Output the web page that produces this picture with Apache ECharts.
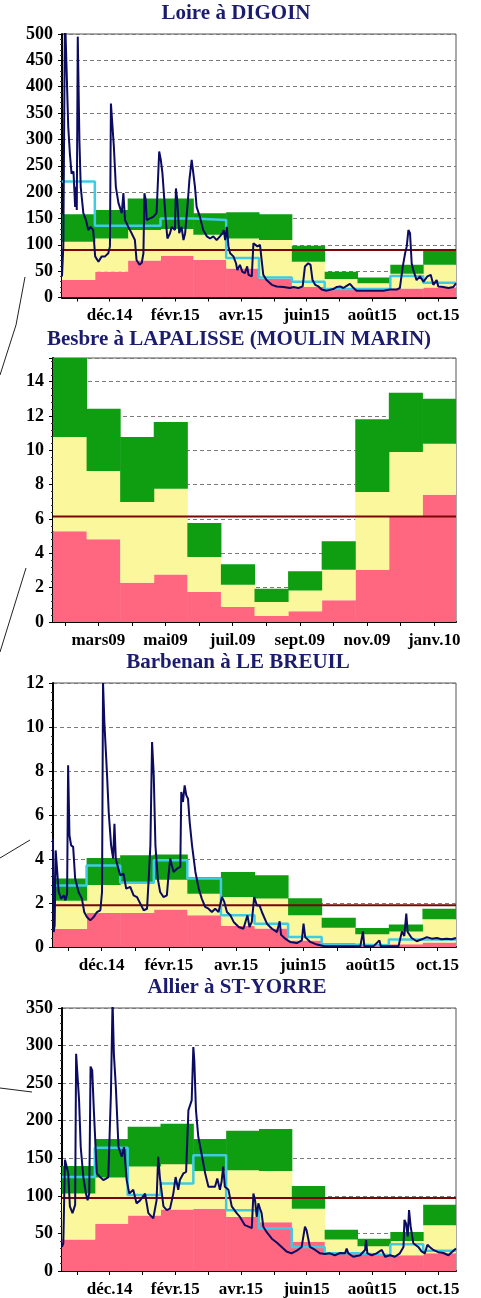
<!DOCTYPE html>
<html><head><meta charset="utf-8">
<script src="https://cdn.jsdelivr.net/npm/echarts@6/dist/echarts.min.js"></script>
<style>html,body{margin:0;padding:0;background:#fff}#c{width:481px;height:1298px}</style>
</head><body><div id="c"></div><script>
// ---- tick labels (x in months since start of first monthly band) ----
const labels1415 = ['déc.14','févr.15','avr.15','juin15','août15','oct.15'];
const labelPos1415 = [1.45,3.45,5.45,7.45,9.45,11.45];
const tickPos1415 = [0.45,1.45,2.45,3.45,4.45,5.45,6.45,7.45,8.45,9.45,10.45,11.45];
const labels0910 = ['mars09','mai09','juil.09','sept.09','nov.09','janv.10'];
const labelPos0910 = [1.35,3.35,5.35,7.35,9.35,11.35];
const tickPos0910 = [0.35,1.35,2.35,3.35,4.35,5.35,6.35,7.35,8.35,9.35,10.35,11.35];

// ---- Loire à DIGOIN ----
const loirePink   = [33,49,70,79,71,55,35,20,17,14,17,19];
const loireYellow = [106,112,128,130,119,112,109,68,35,27,45,62];
const loireGreen  = [158,166,188,188,160,162,158,98,49,38,62,90];
const loireMean   = [220,136,136,150,147,75,38,30,16,16,41,28];
const loireAlert  = 90;
const loireT = [0.00,0.04,0.09,0.19,0.24,0.29,0.35,0.40,0.43,0.45,0.48,0.53,0.57,0.65,0.73,0.80,0.87,0.95,1.01,1.11,1.21,1.31,1.41,1.46,1.49,1.54,1.58,1.64,1.72,1.82,1.87,1.92,2.02,2.12,2.22,2.27,2.36,2.43,2.48,2.51,2.55,2.58,2.68,2.78,2.88,2.96,3.01,3.06,3.11,3.16,3.21,3.29,3.34,3.44,3.47,3.51,3.57,3.64,3.70,3.75,3.82,3.88,3.95,4.00,4.05,4.10,4.20,4.30,4.41,4.51,4.61,4.71,4.81,4.89,4.93,4.97,5.02,5.07,5.12,5.22,5.30,5.34,5.42,5.49,5.57,5.64,5.68,5.78,5.83,5.88,5.95,6.03,6.08,6.13,6.23,6.39,6.54,6.74,6.94,7.05,7.20,7.33,7.40,7.50,7.57,7.63,7.71,7.81,7.91,8.06,8.26,8.37,8.47,8.57,8.67,8.77,8.85,8.97,9.18,9.38,9.58,9.79,9.99,10.19,10.29,10.38,10.45,10.50,10.55,10.60,10.65,10.70,10.80,10.90,11.01,11.13,11.23,11.31,11.41,11.46,11.61,11.77,11.92,12.00];
const loireQ = [40,97,540,324,273,235,239,172,210,166,495,299,210,160,147,128,134,128,78,68,78,78,84,97,368,368,286,210,179,160,198,147,134,122,109,71,62,66,84,198,185,147,150,153,160,277,261,235,191,147,112,122,134,128,207,185,122,134,109,122,172,223,261,258,210,172,153,128,116,112,116,109,116,122,128,109,134,97,84,78,65,52,62,49,46,59,43,40,103,100,97,100,97,43,33,24,21,20,18,20,18,21,59,65,62,33,24,21,15,13,16,20,21,18,22,26,20,13,13,13,13,13,15,15,18,59,84,97,128,122,65,52,33,40,30,40,43,24,33,21,20,18,20,27];

// ---- Besbre à LAPALISSE (MOULIN MARIN) ----
const besbrePink   = [5.28,4.82,2.29,2.76,1.75,0.87,0.35,0.62,1.26,3.05,6.17,7.42];
const besbreYellow = [10.78,8.80,6.99,7.77,3.79,2.17,1.17,1.84,3.05,7.57,9.90,10.39];
const besbreGreen  = [15.4,12.43,10.78,11.65,5.77,3.36,1.94,2.95,4.70,11.81,13.36,13.01];
const besbreAlert  = 6.15;

// ---- Barbenan à LE BREUIL ----
const barbPink   = [0.82,1.55,1.55,1.70,1.44,0.95,0.84,0.30,0.18,0.08,0.12,0.20];
const barbYellow = [2.10,2.82,2.90,3.06,2.42,2.27,2.20,1.44,0.88,0.58,0.71,1.26];
const barbGreen  = [3.11,4.04,4.17,4.21,3.18,3.41,3.26,2.22,1.33,0.86,1.02,1.74];
const barbMean   = [2.80,3.71,2.92,3.94,3.11,1.44,1.06,0.45,0.10,0.08,0.34,0.34];
const barbAlert  = 1.9;
const barbT = [0.00,0.02,0.05,0.08,0.12,0.17,0.24,0.32,0.37,0.42,0.45,0.49,0.54,0.60,0.66,0.76,0.86,0.93,1.01,1.11,1.21,1.31,1.41,1.46,1.49,1.53,1.57,1.61,1.66,1.73,1.79,1.83,1.87,1.92,2.00,2.10,2.18,2.30,2.40,2.50,2.60,2.70,2.80,2.85,2.90,2.95,3.00,3.05,3.12,3.19,3.29,3.39,3.44,3.49,3.54,3.59,3.69,3.79,3.82,3.87,3.92,3.97,4.02,4.07,4.14,4.24,4.34,4.43,4.53,4.63,4.73,4.83,4.93,5.03,5.10,5.18,5.28,5.38,5.53,5.67,5.79,5.85,5.92,5.99,6.07,6.15,6.22,6.37,6.52,6.67,6.75,6.79,6.91,7.06,7.26,7.41,7.46,7.51,7.66,7.86,8.06,8.35,8.75,9.15,9.23,9.27,9.54,9.72,9.76,10.04,10.29,10.39,10.46,10.52,10.56,10.68,10.83,10.98,11.13,11.28,11.43,11.57,11.72,11.87,12.00];
const barbQ = [4.92,0.68,0.98,4.39,4.32,2.5,2.2,2.35,2.12,2.42,8.26,5.08,4.62,4.55,3.11,2.5,2.2,1.59,1.36,1.21,1.36,1.59,1.67,2.5,12.0,10.2,10.2,7.8,6.1,4.62,4.02,5.6,4.0,3.71,3.26,3.33,2.65,2.73,2.35,2.27,1.97,1.67,1.74,3.11,4.62,9.32,7.8,4.62,3.11,2.5,2.27,2.35,3.26,4.02,3.71,3.41,3.56,3.64,7.05,6.59,7.35,6.89,6.74,5.68,4.62,3.41,2.65,2.2,1.82,1.74,1.59,1.74,1.59,2.27,2.05,1.59,1.44,1.14,0.91,0.83,1.44,0.91,1.14,2.27,1.89,1.89,1.59,1.06,0.83,0.68,1.17,0.56,0.38,0.23,0.18,0.30,1.06,0.45,0.23,0.11,0.05,0.03,0.03,0.03,0.71,0.03,0.03,0.3,0.03,0.03,0.05,0.71,0.5,1.52,0.68,0.41,0.26,0.35,0.45,0.38,0.41,0.35,0.38,0.35,0.41];

// ---- Allier à ST-YORRE ----
const allierPink   = [42,63,74,82,83,72,65,39,23.5,22,21,23.5];
const allierYellow = [103,124.5,139,142,133,134,133,83,42,33,40,61];
const allierGreen  = [139.6,175.5,192,196,175.5,186.5,189,113,55,43,52,88];
const allierMean   = [125,164,101,116.5,154,81,57,32,23.5,21,35.5,27];
const allierAlert  = 97;
const allierT = [0.00,0.04,0.09,0.14,0.19,0.24,0.32,0.40,0.43,0.48,0.52,0.57,0.65,0.73,0.78,0.83,0.87,0.92,0.97,1.06,1.16,1.26,1.34,1.41,1.49,1.54,1.58,1.64,1.72,1.82,1.89,1.97,2.05,2.17,2.27,2.38,2.53,2.63,2.78,2.88,2.93,2.98,3.09,3.19,3.29,3.39,3.46,3.54,3.59,3.70,3.78,3.85,3.95,4.00,4.03,4.08,4.15,4.25,4.36,4.46,4.56,4.66,4.73,4.81,4.86,4.91,4.96,5.07,5.17,5.32,5.42,5.57,5.68,5.78,5.83,5.88,5.93,5.98,6.03,6.08,6.13,6.23,6.39,6.54,6.69,6.84,6.99,7.15,7.30,7.40,7.45,7.55,7.71,7.86,8.01,8.16,8.31,8.47,8.62,8.67,8.72,8.87,9.08,9.23,9.26,9.30,9.43,9.58,9.74,9.84,9.99,10.14,10.29,10.40,10.43,10.48,10.53,10.57,10.62,10.70,10.85,10.95,11.05,11.13,11.20,11.31,11.46,11.62,11.77,11.92,12.00];
const allierQ = [32,37,148,150,130,86,77,88,289,289,227,165,125,103,94,103,272,267,214,130,125,121,123,125,236,360,289,245,165,152,165,121,103,108,90,94,103,77,70,94,152,125,86,81,83,103,125,108,121,130,132,214,227,298,280,214,179,156,130,112,112,112,123,108,119,139,112,108,86,77,72,61,59,57,103,94,72,90,83,77,59,52,43,38,32,26,23.5,27,32,59,54,32,28,23.5,22.6,23.5,21,24,23.5,30,23.5,19,21,28,41,23.5,21,23.5,28,19,21,19,23.5,32,68,63,46,81,59,37,32,26,23.5,35,32,28,25,24,21,27,30];

const FONT = '"Liberation Serif","DejaVu Serif",serif';
const C_PINK = '#ff6680', C_YEL = '#fbf79c', C_GREEN = '#0f9d12', C_CYAN = '#3fcbe6', C_NAVY = '#0b0b62', C_RED = '#7a0606';

const panels = [
  {title:'Loire à DIGOIN', tx:236, tt:3, grid:{left:62, top:34, width:394, height:263.5}, yMax:500, yStep:50,
   pink:loirePink, yellow:loireYellow, green:loireGreen, mean:loireMean, t:loireT, q:loireQ, alert:loireAlert,
   labels:labels1415, labelPos:labelPos1415, tickPos:tickPos1415},
  {title:'Besbre à LAPALISSE (MOULIN MARIN)', tx:239, tt:329, grid:{left:53, top:358, width:403, height:264}, yMax:15.38, yStep:2,
   pink:besbrePink, yellow:besbreYellow, green:besbreGreen, mean:null, t:null, q:null, alert:besbreAlert,
   labels:labels0910, labelPos:labelPos0910, tickPos:tickPos0910},
  {title:'Barbenan à LE BREUIL', tx:238, tt:652, grid:{left:53, top:683, width:403, height:264}, yMax:12, yStep:2,
   pink:barbPink, yellow:barbYellow, green:barbGreen, mean:barbMean, t:barbT, q:barbQ, alert:barbAlert,
   labels:labels1415, labelPos:labelPos1415, tickPos:tickPos1415},
  {title:'Allier à ST-YORRE', tx:237, tt:977, grid:{left:62, top:1008, width:394, height:263}, yMax:350, yStep:50,
   pink:allierPink, yellow:allierYellow, green:allierGreen, mean:allierMean, t:allierT, q:allierQ, alert:allierAlert,
   labels:labels1415, labelPos:labelPos1415, tickPos:tickPos1415}
];

function bandSeries(gi, lows, highs, color) {
  return {
    type:'custom', xAxisIndex:gi, yAxisIndex:gi, clip:true, silent:true, z:1,
    encode:{x:0, y:[1,2]},
    data: highs.map((h,i)=>[i, lows[i], h]),
    renderItem:(params, api)=>{
      const i = api.value(0), lo = api.value(1), hi = api.value(2);
      const p0 = api.coord([i, lo]), p1 = api.coord([i+1, hi]);
      return {type:'rect', shape:{x:p0[0], y:p1[1], width:p1[0]-p0[0]+0.5, height:p0[1]-p1[1]}, style:{fill:color}};
    }
  };
}

const option = {animation:false, backgroundColor:'#fff', title:[], grid:[], xAxis:[], yAxis:[], series:[],
  graphic:[
    {type:'polyline', shape:{points:[[25,277],[16,325],[0,375]]}, style:{stroke:'#222', lineWidth:1, fill:null}},
    {type:'line', shape:{x1:26,y1:568,x2:0,y2:652}, style:{stroke:'#222', lineWidth:1}},
    {type:'line', shape:{x1:30,y1:840,x2:0,y2:858}, style:{stroke:'#222', lineWidth:1}},
    {type:'line', shape:{x1:0,y1:1088,x2:32,y2:1092}, style:{stroke:'#222', lineWidth:1}}
  ]};

panels.forEach((p, gi)=>{
  option.title.push({text:p.title, left:p.tx, top:p.tt, textAlign:'center', padding:0,
    textStyle:{fontFamily:FONT, fontWeight:'bold', fontSize:21, color:'#1c1c6e'}});
  option.grid.push(Object.assign({show:true, borderColor:'#555', borderWidth:1, backgroundColor:'rgba(0,0,0,0)'}, p.grid));
  option.xAxis.push({type:'value', gridIndex:gi, min:0, max:12,
    axisLine:{lineStyle:{color:'#000', width:2}},
    axisTick:{show:true, customValues:p.tickPos, length:4, lineStyle:{color:'#000'}},
    axisLabel:{customValues:p.labelPos, margin:10, fontFamily:FONT, fontWeight:'bold', fontSize:17, color:'#000',
      formatter:(v)=>{const k = p.labelPos.findIndex(x=>Math.abs(x-v)<0.01); return k>=0 ? p.labels[k] : '';}},
    splitLine:{show:false}});
  option.yAxis.push({type:'value', gridIndex:gi, min:0, max:p.yMax, interval:p.yStep,
    axisLine:{show:true, lineStyle:{color:'#000', width:2}},
    axisTick:{show:true, length:4, lineStyle:{color:'#000'}},
    minorTick:{show:true, splitNumber:5, length:2, lineStyle:{color:'#333'}},
    axisLabel:{showMaxLabel: p.yMax % p.yStep === 0, margin:9, fontFamily:FONT, fontWeight:'bold', fontSize:18, color:'#000'},
    splitLine:{show:true, lineStyle:{color:'#7a7a7a', type:[4,3], width:1}}});
  const zeros = p.pink.map(()=>0);
  option.series.push(bandSeries(gi, zeros, p.pink, C_PINK));
  option.series.push(bandSeries(gi, p.pink, p.yellow, C_YEL));
  option.series.push(bandSeries(gi, p.yellow, p.green, C_GREEN));
  option.series.push({type:'line', xAxisIndex:gi, yAxisIndex:gi, symbol:'none', silent:true, z:3,
    data:[[0,p.alert],[12,p.alert]], lineStyle:{color:C_RED, width:2}});
  if (p.mean) {
    const md = p.mean.map((v,i)=>[i,v]); md.push([12, p.mean[p.mean.length-1]]);
    option.series.push({type:'line', xAxisIndex:gi, yAxisIndex:gi, step:'end', symbol:'none', silent:true, z:4,
      data:md, lineStyle:{color:C_CYAN, width:2.5}});
  }
  if (p.t) {
    option.series.push({type:'line', xAxisIndex:gi, yAxisIndex:gi, symbol:'none', silent:true, z:5, clip:true,
      data:p.t.map((t,i)=>[t, p.q[i]]), lineStyle:{color:C_NAVY, width:2}});
  }
});

const chart = echarts.init(document.getElementById('c'), null, {renderer:'canvas'});
chart.setOption(option);
</script></body></html>
